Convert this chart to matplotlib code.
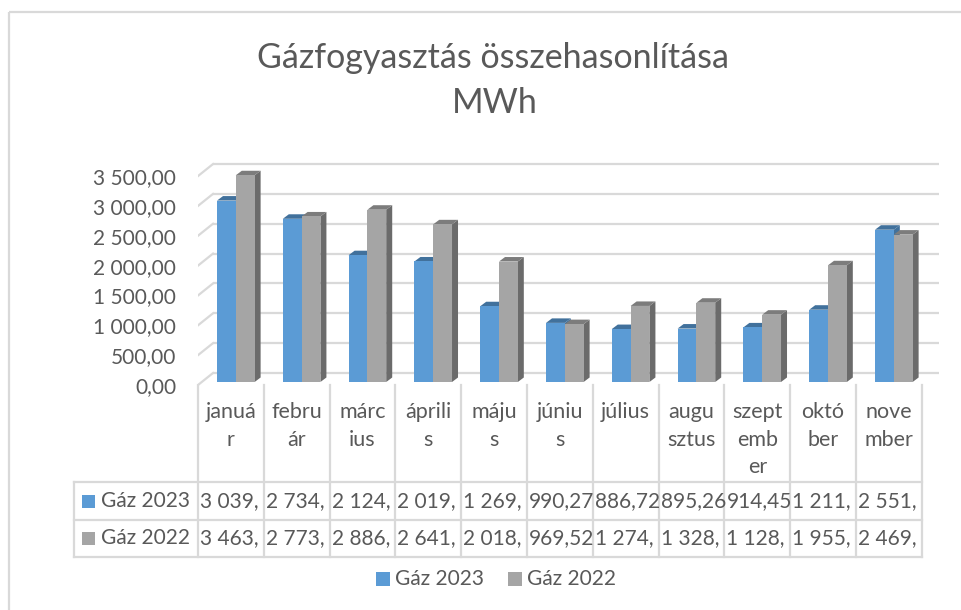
import matplotlib.pyplot as plt
from matplotlib.patches import Polygon, Rectangle

# data
months = ["január", "február", "március", "április", "május", "június",
          "július", "augusztus", "szeptember", "október", "november"]
# wrapped the way the data table header shows them
month_lines = [["januá", "r"], ["febru", "ár"], ["márc", "ius"], ["áprili", "s"],
               ["máju", "s"], ["júniu", "s"], ["július"], ["augu", "sztus"],
               ["szept", "emb", "er"], ["októ", "ber"], ["nove", "mber"]]
gaz_2023 = [3039, 2734, 2124, 2019, 1269, 990.27, 886.72, 895.26, 914.45, 1211, 2551]
gaz_2022 = [3463, 2773, 2886, 2641, 2018, 969.52, 1274, 1328, 1128, 1955, 2469]
series_names = ["Gáz 2023", "Gáz 2022"]
y_ticks = [0, 500, 1000, 1500, 2000, 2500, 3000, 3500]

BLUE, BLUE_SIDE, BLUE_TOP = "#5B9BD5", "#41719C", "#41719C"
GRAY, GRAY_SIDE, GRAY_TOP = "#A5A5A5", "#6B6B6B", "#7C7C7C"
TXT = "#595959"
LINE = "#D9D9D9"
FONT = "Lato"

W, H = 961, 610
fig = plt.figure(figsize=(W / 100, H / 100), dpi=100)

# overlay axes in pixel space for frame, table and legend
ov = fig.add_axes([0, 0, 1, 1], zorder=0)
ov.set_xlim(0, W)
ov.set_ylim(H, 0)
ov.axis("off")

# chart frame (only left/top visible in the crop)
ov.add_patch(Rectangle((8.5, 12), 1000, 700, fill=False, ec=LINE, lw=1.6))

# title
fig.text(493 / W, 1 - 58 / H, "Gázfogyasztás összehasonlítása", ha="center", va="center",
         fontsize=24.5, color=TXT, family=FONT)
fig.text(495 / W, 1 - 103 / H, "MWh", ha="center", va="center",
         fontsize=24.5, color=TXT, family=FONT)

# chart axes: x in category units, y in MWh, 0 at bar base
col_px = 65.8          # pixels per category
px_per_unit = 0.0597   # pixels per MWh
u_per_px = 1 / px_per_unit
left_px, right_px, base_px, top_px, bot_px = 198, 940, 382, 150, 390
ax = fig.add_axes([left_px / W, 1 - bot_px / H, (right_px - left_px) / W, (bot_px - top_px) / H],
                  zorder=1)
ax.set_xlim(-0.5, -0.5 + (right_px - left_px) / col_px)
ax.set_ylim(-(bot_px - base_px) * u_per_px, (base_px - top_px) * u_per_px)
ax.axis("off")

# walls: back gridlines + side wall diagonals
back_dx = 15 / col_px
back_dy = 9 * u_per_px
front_dy = -3 * u_per_px
x_back = -0.5 + back_dx
x_end = -0.5 + (939 - left_px) / col_px
for v in y_ticks:
    ax.plot([x_back, x_end], [v + back_dy, v + back_dy], color=LINE, lw=1.6,
            solid_capstyle="butt", zorder=1)
    ax.plot([-0.5, x_back], [v + front_dy, v + back_dy], color=LINE, lw=1.6, zorder=1)
    label = f"{v:,.2f}".replace(",", " ").replace(".", ",")
    ax.text(-0.5 - 22 / col_px, v + front_dy - 2 * u_per_px, label, ha="right", va="center",
            fontsize=15, color=TXT, family=FONT, clip_on=False)

# bars with fake 3D sides
bw = 18.8 / col_px
offsets = [-0.211, -0.211 + bw]
ddx = 6 / col_px
ddy = 4.5 * u_per_px
styles = [(BLUE, BLUE_SIDE, BLUE_TOP), (GRAY, GRAY_SIDE, GRAY_TOP)]
z = 2
for i in range(len(months)):
    for s, vals in enumerate([gaz_2023, gaz_2022]):
        v = vals[i]
        face, side, top = styles[s]
        xl = i + offsets[s]
        xr = xl + bw
        ax.add_patch(Polygon([(xr, 0), (xr + ddx, ddy), (xr + ddx, v + ddy), (xr, v)],
                             closed=True, fc=side, ec="none", zorder=z))
        ax.add_patch(Polygon([(xl, v), (xl + ddx, v + ddy), (xr + ddx, v + ddy), (xr, v)],
                             closed=True, fc=top, ec="none", zorder=z))
        ax.bar(xl, v, width=bw, align="edge", color=face, zorder=z + 0.5)
        z += 1

# data table
def short(v):
    return f"{v:,.2f}".replace(",", " ").replace(".", ",")[:6]

hdr_top, row1, row2, tbl_bot = 385, 482, 520, 557
key_left = 74
n = len(months)
tbl_right = left_px + n * col_px
for k in range(n + 1):
    x = left_px + k * col_px
    ov.plot([x, x], [hdr_top, tbl_bot], color=LINE, lw=1.6)
ov.plot([key_left, key_left], [row1, tbl_bot], color=LINE, lw=1.6)
for y in (row1, row2, tbl_bot):
    ov.plot([key_left, tbl_right], [y, y], color=LINE, lw=1.6)

for i, lines in enumerate(month_lines):
    cx = left_px + (i + 0.5) * col_px
    for j, t in enumerate(lines):
        ov.text(cx, 412 + 27.5 * j, t, ha="center", va="center", fontsize=15.5,
                color=TXT, family=FONT)

colors = [BLUE, GRAY]
for r, (vals, yc) in enumerate([(gaz_2023, (row1 + row2) / 2), (gaz_2022, (row2 + tbl_bot) / 2)]):
    ov.add_patch(Rectangle((82, yc - 6.5), 13, 13, fc=colors[r], ec="none"))
    ov.text(101, yc, series_names[r], ha="left", va="center", fontsize=15,
            color=TXT, family=FONT)
    for i, v in enumerate(vals):
        ov.text(left_px + i * col_px + 2, yc, short(v), ha="left", va="center",
                fontsize=15, color=TXT, family=FONT)

# legend
for (sx, tx), c, name in zip([(376, 395), (508, 527)], colors, series_names):
    ov.add_patch(Rectangle((sx, 572), 14, 14, fc=c, ec="none"))
    ov.text(tx, 579, name, ha="left", va="center", fontsize=15, color=TXT, family=FONT)

fig.savefig("out.png", dpi=100)
